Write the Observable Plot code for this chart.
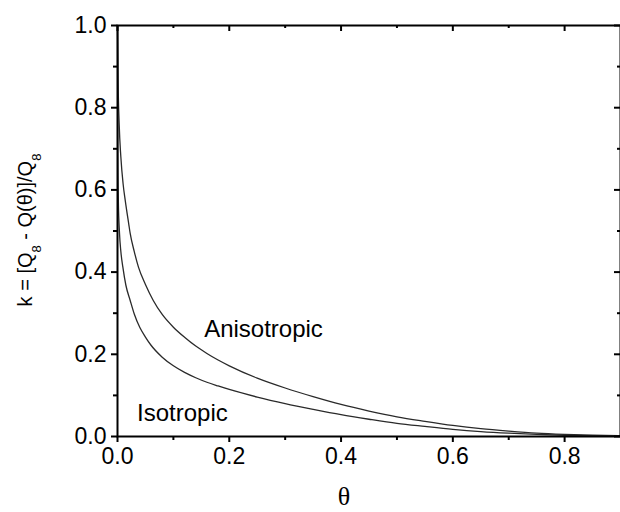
<!DOCTYPE html>
<html>
<head>
<meta charset="utf-8">
<script src="https://cdn.jsdelivr.net/npm/d3@7"></script>
<script src="https://cdn.jsdelivr.net/npm/@observablehq/plot@0.6"></script>
<style>
  html, body { margin: 0; padding: 0; background: #fff; }
</style>
</head>
<body>
<div id="chart"></div>
<script>
// Anisotropic curve (upper)
const anisoTheta = [0, 0.001, 0.003, 0.006, 0.01, 0.0139, 0.02, 0.0227, 0.03, 0.0375, 0.05, 0.064, 0.08, 0.10, 0.12, 0.14, 0.16, 0.18, 0.20, 0.25, 0.30, 0.35, 0.40, 0.45, 0.50, 0.55, 0.60, 0.65, 0.70, 0.75, 0.80, 0.85, 0.90];
const anisoK     = [1.0, 0.87, 0.76, 0.68, 0.615, 0.574, 0.518, 0.494, 0.45, 0.412, 0.37, 0.331, 0.297, 0.266, 0.2415, 0.220, 0.202, 0.186, 0.172, 0.142, 0.118, 0.097, 0.078, 0.062, 0.048, 0.037, 0.027, 0.019, 0.013, 0.008, 0.005, 0.003, 0.002];
// Isotropic curve (lower)
const isoTheta = [0, 0.0005, 0.0015, 0.0036, 0.006, 0.0096, 0.015, 0.0227, 0.03, 0.04, 0.05, 0.06, 0.08, 0.10, 0.12, 0.14, 0.16, 0.18, 0.20, 0.25, 0.30, 0.35, 0.40, 0.45, 0.50, 0.55, 0.60, 0.65, 0.70, 0.75, 0.80, 0.85, 0.90];
const isoK     = [1.0, 0.70, 0.574, 0.494, 0.45, 0.412, 0.368, 0.331, 0.298, 0.265, 0.242, 0.222, 0.193, 0.172, 0.156, 0.143, 0.132, 0.123, 0.1146, 0.096, 0.080, 0.066, 0.053, 0.042, 0.032, 0.0245, 0.0175, 0.012, 0.008, 0.005, 0.003, 0.002, 0.001];

const xMajorTicks = [0, 0.2, 0.4, 0.6, 0.8];
const xMinorTicks = [0.1, 0.3, 0.5, 0.7];
const yMajorTicks = [0, 0.2, 0.4, 0.6, 0.8, 1.0];
const yMinorTicks = [0.1, 0.3, 0.5, 0.7, 0.9];
const xMin = 0, xMax = 0.9, yMin = 0, yMax = 1;

const seriesLabels = [
  {name: "Anisotropic", x: 0.155, y: 0.262},
  {name: "Isotropic", x: 0.035, y: 0.057}
];

const data = [
  ...anisoTheta.map((t, i) => ({series: "Anisotropic", theta: t, k: anisoK[i]})),
  ...isoTheta.map((t, i) => ({series: "Isotropic", theta: t, k: isoK[i]}))
];

const fmt = d3.format(".1f");
const blank = () => "";
const tk = {stroke: "#000", strokeWidth: 2};

const chart = Plot.plot({
  width: 620,
  height: 512,
  marginLeft: 117,
  marginRight: 0,
  marginTop: 25,
  marginBottom: 76,
  x: {domain: [xMin, xMax], label: null},
  y: {domain: [yMin, yMax], label: null},
  style: {fontFamily: "'Liberation Sans', Arial, sans-serif", fontSize: "23px", color: "#000", background: "#fff"},
  marks: [
    Plot.line(data, {x: "theta", y: "k", z: "series", curve: "monotone-x", stroke: "#2a2a2a", strokeWidth: 1.3}),
    Plot.text(seriesLabels, {x: "x", y: "y", text: "name", textAnchor: "start", fontSize: 24, fill: "#000"}),
    Plot.frame({strokeWidth: 2, stroke: "#000"}),
    // right ticks (inward)
    Plot.ruleY(yMajorTicks, {y: d => d, x1: xMax, x2: xMax, insetLeft: -6, ...tk}),
    Plot.ruleY(yMinorTicks, {y: d => d, x1: xMax, x2: xMax, insetLeft: -3, ...tk}),
    // top ticks (inward)
    Plot.ruleX(xMajorTicks, {x: d => d, y1: yMax, y2: yMax, insetBottom: -6, ...tk}),
    Plot.ruleX(xMinorTicks, {x: d => d, y1: yMax, y2: yMax, insetBottom: -3, ...tk}),
    // left axis (outward ticks)
    Plot.axisY(yMajorTicks, {anchor: "left", tickSize: 6, tickPadding: 5, tickFormat: fmt, fontSize: 23, stroke: "#000", strokeWidth: 2, fill: "#000"}),
    Plot.axisY(yMinorTicks, {anchor: "left", tickSize: 4, tickFormat: blank, stroke: "#000", strokeWidth: 2}),
    // bottom axis (outward ticks)
    Plot.axisX(xMajorTicks, {anchor: "bottom", tickSize: 6, tickPadding: 5, tickFormat: fmt, fontSize: 23, stroke: "#000", strokeWidth: 2, fill: "#000"}),
    Plot.axisX(xMinorTicks, {anchor: "bottom", tickSize: 4, tickFormat: blank, stroke: "#000", strokeWidth: 2}),
    Plot.text(["θ"], {frameAnchor: "bottom", dx: -25, dy: 68, fontSize: 26, fontFamily: "'Liberation Serif', 'Times New Roman', serif", fill: "#000"})
  ]
});

document.getElementById("chart").appendChild(chart);

const svg = d3.select(chart);
const ylab = svg.append("text")
  .attr("transform", "translate(32,230) rotate(-90)")
  .attr("text-anchor", "middle")
  .attr("font-family", "'Liberation Sans', Arial, sans-serif")
  .attr("font-size", 20)
  .attr("fill", "#000");
ylab.append("tspan").text("k = [Q");
ylab.append("tspan").attr("font-size", 13).attr("dy", 9).text("8");
ylab.append("tspan").attr("dy", -9).text(" - Q(θ)]/Q");
ylab.append("tspan").attr("font-size", 13).attr("dy", 9).text("8");
</script>
</body>
</html>
